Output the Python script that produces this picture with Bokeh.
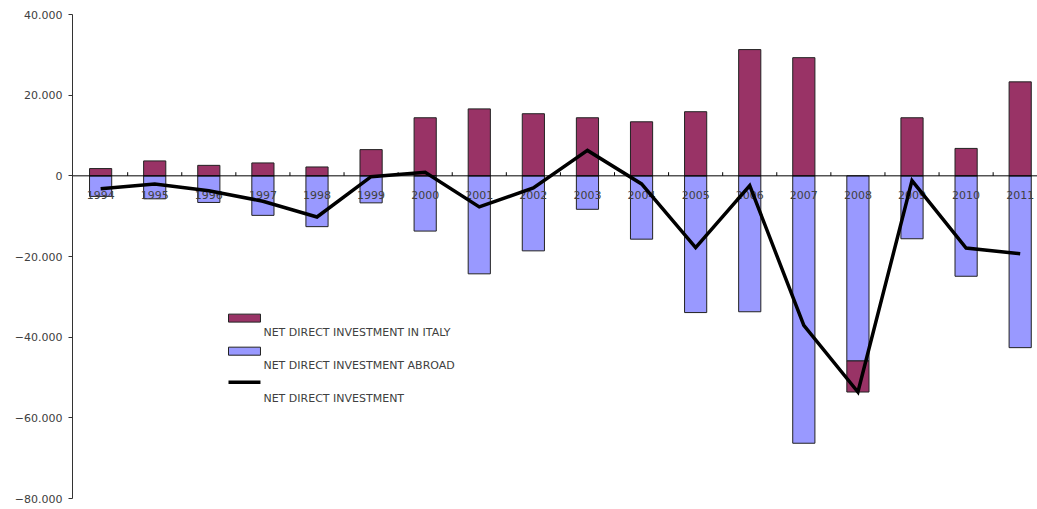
import numpy as np
from bokeh.plotting import figure
from bokeh.models import Range1d, Span, FixedTicker, ColumnDataSource, BoxAnnotation, Label
from bokeh.core.properties import value
from bokeh.embed import file_html
from bokeh.resources import INLINE

# Net direct investment flows (millions of euro)
years = ["1994", "1995", "1996", "1997", "1998", "1999", "2000", "2001", "2002",
         "2003", "2004", "2005", "2006", "2007", "2008", "2009", "2010", "2011"]
in_italy = [1800, 3700, 2600, 3200, 2200, 6500, 14400, 16600, 15400,
            14400, 13400, 15900, 31300, 29300, -7700, 14400, 6800, 23300]
abroad = [-5100, -5700, -6600, -9800, -12600, -6700, -13700, -24300, -18600,
          -8300, -15700, -33900, -33700, -66300, -45900, -15600, -24900, -42600]
net = [-3200, -2000, -3700, -6300, -10200, -200, 900, -7700, -3000,
       6300, -2000, -17800, -2400, -37100, -53600, -1200, -17900, -19300]
y_ticks = [40000, 20000, 0, -20000, -40000, -60000, -80000]
y_tick_labels = ["40.000", "20.000", "0", "\u221220.000", "\u221240.000", "\u221260.000", "\u221280.000"]

PURPLE = "#993366"
BLUE = "#9999FF"
FONT = "DejaVu Sans"

x = np.arange(len(years))
italy_arr = np.array(in_italy)
abroad_arr = np.array(abroad)
# negative inflows stack below the outflow bar
italy_bottom = np.where(italy_arr >= 0, 0, abroad_arr)
italy_top = italy_bottom + italy_arr

src = ColumnDataSource(dict(x=x, year=years, ab_top=abroad_arr, ab_bottom=np.zeros(len(x)),
                            it_top=italy_top, it_bottom=italy_bottom, net=net,
                            label_y=np.full(len(x), -4700)))

p = figure(width=1037, height=509, output_backend="svg", toolbar_location=None,
           x_range=Range1d(-0.52, 17.32), y_range=Range1d(-80000, 40000),
           min_border_left=72, min_border_right=0, min_border_top=14, min_border_bottom=11)
p.outline_line_color = None
p.background_fill_color = "white"
p.border_fill_color = "white"
p.xgrid.visible = False
p.ygrid.visible = False
p.xaxis.visible = False

ax = p.yaxis[0]
ax.ticker = FixedTicker(ticks=y_ticks)
ax.major_label_overrides = {t: s for t, s in zip(y_ticks, y_tick_labels)}
ax.minor_tick_line_color = None
ax.major_tick_in = 0
ax.major_tick_out = 4
ax.axis_line_color = "#333333"
ax.major_tick_line_color = "#333333"
ax.major_label_text_font = FONT
ax.major_label_text_font_size = "11px"
ax.major_label_text_color = "#404040"
ax.major_label_standoff = 6

bw = 0.41
p.vbar(x="x", top="ab_top", bottom="ab_bottom", width=bw, source=src,
       fill_color=BLUE, line_color="#222222", line_width=1)
p.vbar(x="x", top="it_top", bottom="it_bottom", width=bw, source=src,
       fill_color=PURPLE, line_color="#222222", line_width=1)

p.add_layout(Span(location=0, dimension="width", line_color="black", line_width=1))
# category separators on the zero line
p.segment(x0=x[:-1] + 0.5, y0=0, x1=x[:-1] + 0.5, y1=900, line_color="black", line_width=1)

p.text(x="x", y="label_y", text="year", source=src, text_align="center",
       text_baseline="middle", text_font=value(FONT), text_font_size="11px",
       text_color="#404040")

p.line(x="x", y="net", source=src, line_color="black", line_width=3.5, line_join="miter")

# legend
leg_x0, leg_x1, text_x = 2.364, 2.955, 3.01
items = [("NET DIRECT INVESTMENT IN ITALY", PURPLE, -34290, -36270, -38760),
         ("NET DIRECT INVESTMENT ABROAD", BLUE, -42480, -44470, -46960)]
for name, col, top, bot, ty in items:
    p.add_layout(BoxAnnotation(left=leg_x0, right=leg_x1, top=top, bottom=bot,
                               fill_color=col, fill_alpha=1, line_color="#222222",
                               line_width=1, line_alpha=1))
    p.add_layout(Label(x=text_x, y=ty, text=name, text_font=FONT, text_font_size="11px",
                       text_color="#404040", text_baseline="middle"))
p.segment(x0=[leg_x0], y0=[-51180], x1=[leg_x1], y1=[-51180], line_color="black", line_width=3.5)
p.add_layout(Label(x=text_x, y=-55160, text="NET DIRECT INVESTMENT", text_font=FONT,
                   text_font_size="11px", text_color="#404040", text_baseline="middle"))

open("out.html", "w").write(file_html(p, INLINE))
